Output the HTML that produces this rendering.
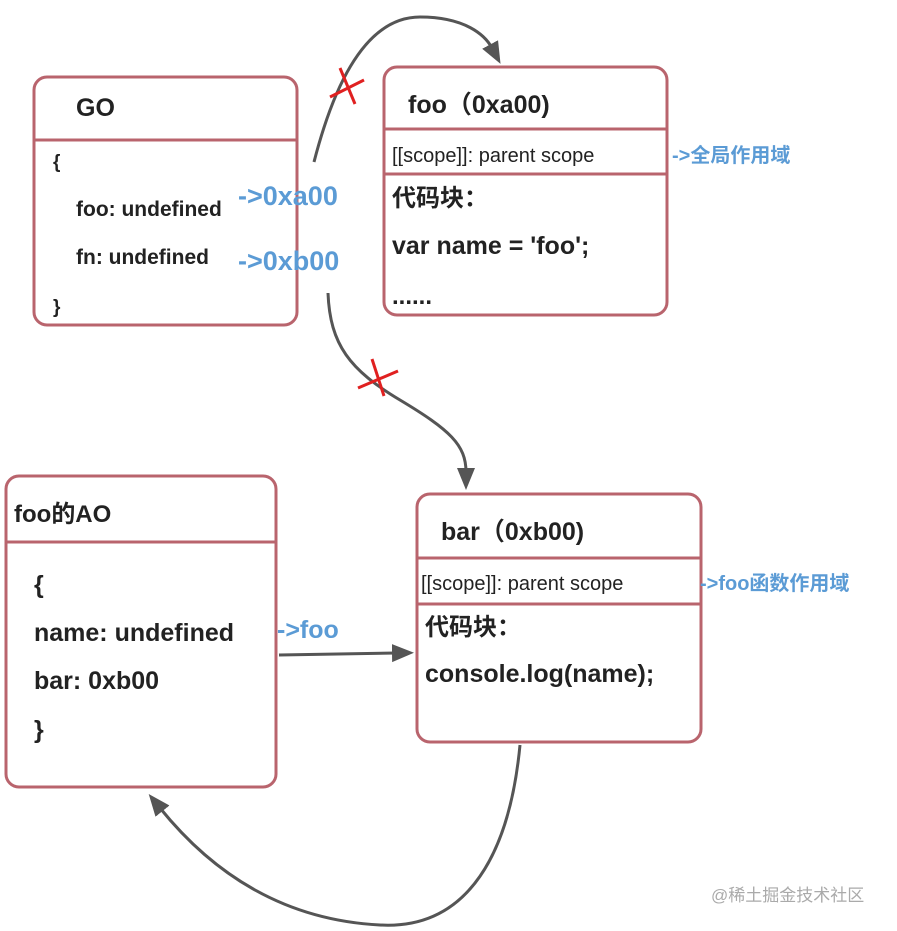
<!DOCTYPE html>
<html><head><meta charset="utf-8"><style>
html,body{margin:0;padding:0;background:#fff;}
svg{display:block;}
text{font-family:"Liberation Sans","Noto Sans CJK SC",sans-serif;font-weight:bold;fill:#222;}
.b{fill:#5b9bd5;}
</style></head><body>
<svg width="897" height="931" viewBox="0 0 897 931" xmlns="http://www.w3.org/2000/svg">
<defs><marker id="ar" markerWidth="10" markerHeight="10" refX="5" refY="5" orient="auto" markerUnits="userSpaceOnUse" viewBox="0 0 10 10"><path d="M0,0 L10,5 L0,10 z" fill="#555"/></marker>
<marker id="a2" markerWidth="22" markerHeight="22" refX="4" refY="11" orient="auto" markerUnits="userSpaceOnUse"><path d="M0,2 L22,11 L0,20 z" fill="#555"/></marker></defs>
<g fill="none" stroke="#b9646d" stroke-width="3">
<rect x="34" y="77" width="263" height="248" rx="13"/><line x1="34" y1="140" x2="297" y2="140"/>
<rect x="384" y="67" width="283" height="248" rx="13"/><line x1="384" y1="129" x2="667" y2="129"/><line x1="384" y1="174" x2="667" y2="174"/>
<rect x="6" y="476" width="270" height="311" rx="13"/><line x1="6" y1="542" x2="276" y2="542"/>
<rect x="417" y="494" width="284" height="248" rx="13"/><line x1="417" y1="558" x2="701" y2="558"/><line x1="417" y1="604" x2="701" y2="604"/>
</g>
<g fill="none" stroke="#555" stroke-width="3">
<path d="M314,162 C330,100 360,17 420,17 C465,17 485,35 492,48" marker-end="url(#a2)"/>
<path d="M328,293 C330,345 350,370 400,400 C450,430 466,445 466,472" marker-end="url(#a2)"/>
<path d="M279,655 L396,653" marker-end="url(#a2)"/>
<path d="M520,745 C510,850 470,930 380,925 C280,920 210,870 160,808" marker-end="url(#a2)"/>
</g>
<g stroke="#e02020" stroke-width="3">
<line x1="330" y1="97" x2="364" y2="80"/><line x1="340" y1="68" x2="355" y2="104"/>
<line x1="358" y1="388" x2="398" y2="371"/><line x1="372" y1="359" x2="384" y2="396"/>
</g>
<text x="76" y="116" font-size="25">GO</text>
<text x="53" y="168" font-size="19">{</text>
<text x="76" y="216" font-size="21">foo: undefined</text>
<text x="76" y="264" font-size="21">fn: undefined</text>
<text x="53" y="313" font-size="19">}</text>
<text class="b" x="238" y="205" font-size="27">-&gt;0xa00</text>
<text class="b" x="238" y="270" font-size="27">-&gt;0xb00</text>
<text x="408" y="113" font-size="25">foo（0xa00)</text>
<text x="392" y="162" font-size="20" font-weight="normal" style="font-weight:normal">[[scope]]: parent scope</text>
<text class="b" x="672" y="162" font-size="20">-&gt;全局作用域</text>
<text x="392" y="206" font-size="24">代码块：</text>
<text x="392" y="254" font-size="25">var name = 'foo';</text>
<text x="392" y="304" font-size="24">......</text>
<text x="14" y="522" font-size="24">foo的AO</text>
<text x="34" y="593" font-size="25">{</text>
<text x="34" y="641" font-size="25">name: undefined</text>
<text x="34" y="689" font-size="25">bar: 0xb00</text>
<text x="34" y="738" font-size="25">}</text>
<text class="b" x="277" y="638" font-size="25">-&gt;foo</text>
<text x="441" y="540" font-size="25">bar（0xb00)</text>
<text x="421" y="590" font-size="20" style="font-weight:normal">[[scope]]: parent scope</text>
<text class="b" x="700" y="590" font-size="20">-&gt;foo函数作用域</text>
<text x="425" y="635" font-size="24">代码块：</text>
<text x="425" y="682" font-size="25">console.log(name);</text>
<text x="711" y="901" font-size="17" style="font-weight:normal;fill:#aaa">@稀土掘金技术社区</text>
</svg>
</body></html>
